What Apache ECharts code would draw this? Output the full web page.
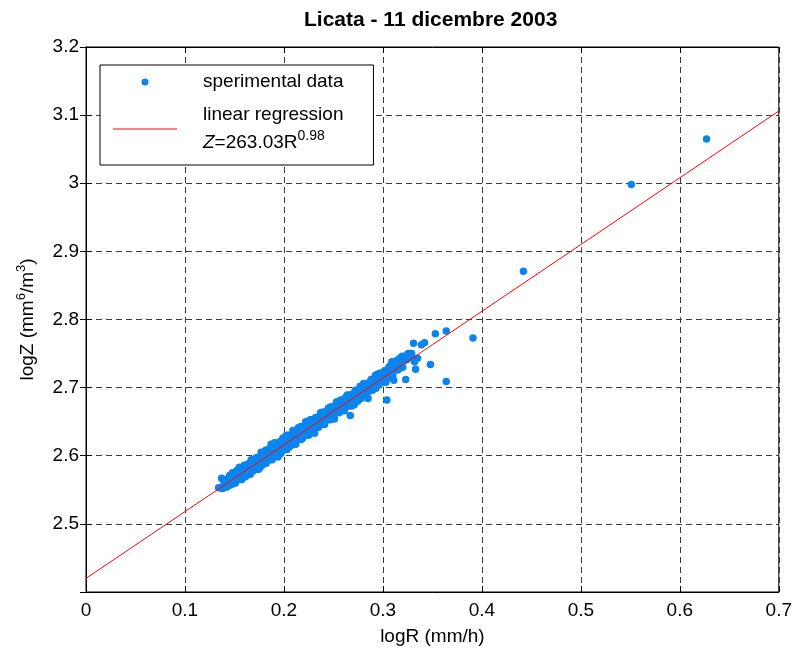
<!DOCTYPE html>
<html>
<head>
<meta charset="utf-8">
<script src="https://cdn.jsdelivr.net/npm/echarts@6/dist/echarts.min.js"></script>
<style>
  html, body { margin: 0; padding: 0; background: #fff; }
  #chart { width: 795px; height: 651px; }
</style>
</head>
<body>
<div id="chart"></div>
<script>
// Rain-rate / reflectivity pairs (log10 R in mm/h, log10 Z in mm^6/m^3)
const logR = [
  0.134, 0.137, 0.138, 0.140, 0.141, 0.143, 0.144, 0.145, 0.146, 0.147,
  0.148, 0.149, 0.150, 0.151, 0.152, 0.153, 0.154, 0.155, 0.156, 0.157,
  0.158, 0.159, 0.160, 0.161, 0.162, 0.163, 0.164, 0.165, 0.166, 0.167,
  0.168, 0.169, 0.170, 0.171, 0.172, 0.173, 0.174, 0.175, 0.176, 0.177,
  0.178, 0.179, 0.180, 0.181, 0.182, 0.183, 0.184, 0.185, 0.186, 0.187,
  0.188, 0.189, 0.190, 0.191, 0.192, 0.193, 0.194, 0.195, 0.196, 0.197,
  0.198, 0.199, 0.200, 0.201, 0.202, 0.203, 0.204, 0.205, 0.206, 0.207,
  0.208, 0.209, 0.210, 0.211, 0.212, 0.213, 0.214, 0.215, 0.216, 0.217,
  0.218, 0.219, 0.220, 0.221, 0.222, 0.223, 0.224, 0.225, 0.226, 0.227,
  0.228, 0.229, 0.230, 0.231, 0.232, 0.233, 0.234, 0.235, 0.236, 0.237,
  0.238, 0.239, 0.240, 0.241, 0.242, 0.243, 0.244, 0.245, 0.246, 0.247,
  0.248, 0.249, 0.250, 0.251, 0.252, 0.253, 0.254, 0.255, 0.256, 0.257,
  0.258, 0.259, 0.260, 0.261, 0.262, 0.263, 0.264, 0.265, 0.266, 0.267,
  0.268, 0.269, 0.270, 0.271, 0.272, 0.273, 0.274, 0.275, 0.276, 0.277,
  0.278, 0.279, 0.280, 0.281, 0.282, 0.283, 0.284, 0.285, 0.286, 0.287,
  0.288, 0.289, 0.290, 0.291, 0.292, 0.293, 0.294, 0.295, 0.296, 0.297,
  0.298, 0.299, 0.300, 0.301, 0.302, 0.303, 0.304, 0.305, 0.306, 0.307,
  0.308, 0.309, 0.310, 0.311, 0.312, 0.313, 0.314, 0.315, 0.316, 0.317,
  0.318, 0.319, 0.320, 0.321, 0.322, 0.323, 0.324, 0.325, 0.327, 0.329,
  0.331, 0.332, 0.333, 0.335, 0.339, 0.342, 0.348, 0.353, 0.364, 0.364,
  0.391, 0.442, 0.551, 0.627,
  0.139, 0.142, 0.146, 0.150, 0.153, 0.157, 0.160, 0.163, 0.166, 0.169,
  0.172, 0.175, 0.178, 0.181, 0.184, 0.187, 0.190, 0.193, 0.196, 0.199,
  0.202, 0.205, 0.208, 0.211, 0.214, 0.217, 0.220, 0.223, 0.226, 0.229,
  0.232, 0.235, 0.238, 0.241, 0.244, 0.247, 0.250, 0.253, 0.256, 0.259,
  0.262, 0.265, 0.268, 0.271, 0.274, 0.277, 0.280, 0.283, 0.286, 0.289,
  0.292, 0.295, 0.298, 0.301, 0.304, 0.307, 0.310, 0.313, 0.316, 0.320,
  0.1365, 0.1395, 0.1425, 0.1455, 0.1485, 0.1515, 0.1545, 0.1575, 0.1605, 0.1635,
  0.1665, 0.1695, 0.1725, 0.1755, 0.1785, 0.1815, 0.1845, 0.1875, 0.1905, 0.1935,
  0.1965, 0.1995, 0.2025, 0.2055, 0.2085, 0.2115, 0.2145, 0.2175, 0.2205, 0.2235,
  0.2265, 0.2295, 0.2325, 0.2355, 0.2385, 0.2415, 0.2445, 0.2475, 0.2505, 0.2535,
  0.2565, 0.2595, 0.2625, 0.2655, 0.2685, 0.2715, 0.2745, 0.2775, 0.2805, 0.2835,
  0.2865, 0.2895, 0.2925, 0.2955, 0.2985, 0.3015, 0.3045, 0.3075, 0.3105, 0.3135,
  0.3165, 0.3195, 0.3225, 0.3255, 0.3285
];
const logZ = [
  2.553, 2.567, 2.552, 2.561, 2.554, 2.566, 2.559, 2.571, 2.557, 2.567,
  2.575, 2.562, 2.572, 2.560, 2.577, 2.570, 2.565, 2.583, 2.576, 2.567,
  2.581, 2.573, 2.586, 2.569, 2.581, 2.587, 2.576, 2.586, 2.573, 2.594,
  2.583, 2.591, 2.580, 2.590, 2.597, 2.586, 2.580, 2.598, 2.592, 2.605,
  2.586, 2.598, 2.592, 2.604, 2.589, 2.600, 2.609, 2.596, 2.606, 2.617,
  2.594, 2.611, 2.604, 2.600, 2.618, 2.611, 2.598, 2.618, 2.608, 2.617,
  2.606, 2.626, 2.617, 2.611, 2.624, 2.609, 2.623, 2.630, 2.619, 2.615,
  2.629, 2.637, 2.621, 2.629, 2.617, 2.637, 2.628, 2.635, 2.625, 2.643,
  2.634, 2.626, 2.642, 2.634, 2.650, 2.633, 2.643, 2.630, 2.649, 2.642,
  2.653, 2.639, 2.649, 2.633, 2.656, 2.645, 2.654, 2.642, 2.652, 2.663,
  2.647, 2.660, 2.653, 2.646, 2.665, 2.658, 2.653, 2.670, 2.664, 2.653,
  2.668, 2.661, 2.672, 2.654, 2.669, 2.679, 2.664, 2.675, 2.663, 2.673,
  2.682, 2.670, 2.681, 2.666, 2.680, 2.676, 2.689, 2.673, 2.685, 2.659,
  2.690, 2.680, 2.687, 2.675, 2.696, 2.689, 2.683, 2.696, 2.688, 2.702,
  2.684, 2.697, 2.693, 2.703, 2.691, 2.699, 2.688, 2.684, 2.707, 2.701,
  2.712, 2.697, 2.708, 2.702, 2.714, 2.699, 2.710, 2.720, 2.706, 2.721,
  2.715, 2.707, 2.720, 2.713, 2.725, 2.708, 2.682, 2.723, 2.730, 2.718,
  2.728, 2.738, 2.718, 2.711, 2.734, 2.729, 2.740, 2.726, 2.737, 2.743,
  2.733, 2.742, 2.730, 2.740, 2.746, 2.712, 2.741, 2.747, 2.750, 2.750,
  2.765, 2.738, 2.727, 2.743, 2.763, 2.766, 2.734, 2.779, 2.783, 2.709,
  2.773, 2.871, 2.998, 3.065,
  2.564, 2.560, 2.569, 2.563, 2.579, 2.578, 2.572, 2.572, 2.590, 2.578,
  2.586, 2.585, 2.601, 2.594, 2.593, 2.606, 2.614, 2.603, 2.621, 2.613,
  2.611, 2.622, 2.618, 2.636, 2.636, 2.629, 2.629, 2.647, 2.638, 2.650,
  2.641, 2.657, 2.657, 2.659, 2.666, 2.664, 2.659, 2.664, 2.677, 2.682,
  2.670, 2.685, 2.678, 2.691, 2.695, 2.688, 2.701, 2.706, 2.696, 2.709,
  2.704, 2.711, 2.708, 2.723, 2.722, 2.729, 2.729, 2.737, 2.731, 2.741,
  2.553, 2.562, 2.554, 2.565, 2.559, 2.572, 2.579, 2.565, 2.580, 2.578,
  2.577, 2.595, 2.593, 2.582, 2.597, 2.608, 2.603, 2.595, 2.619, 2.616,
  2.603, 2.622, 2.630, 2.613, 2.626, 2.623, 2.641, 2.624, 2.639, 2.637,
  2.653, 2.636, 2.650, 2.647, 2.664, 2.650, 2.662, 2.672, 2.656, 2.672,
  2.681, 2.668, 2.686, 2.678, 2.673, 2.689, 2.680, 2.698, 2.706, 2.692,
  2.704, 2.696, 2.718, 2.704, 2.721, 2.717, 2.714, 2.732, 2.726, 2.733,
  2.728, 2.746, 2.741, 2.750, 2.744
];

// Fitted line log Z = log 263.03 + 0.98 log R, drawn across the axis range
const regR = [0, 0.7];
const regZ = [2.420, 3.106];

// Axis tick values
const xTicks = [0, 0.1, 0.2, 0.3, 0.4, 0.5, 0.6, 0.7];
const yTicks = [2.4, 2.5, 2.6, 2.7, 2.8, 2.9, 3.0, 3.1, 3.2];

const FONT = 'Liberation Sans, Arial, Helvetica, sans-serif';
const points = logR.map((r, i) => [r, logZ[i]]);
const regLine = regR.map((r, i) => [r, regZ[i]]);

const chart = echarts.init(document.getElementById('chart'), null, { renderer: 'canvas' });

const gridLine = { show: true, lineStyle: { color: '#3c3c3c', type: [6, 4], width: 1 } };

chart.setOption({
  animation: false,
  backgroundColor: '#fff',
  textStyle: { fontFamily: FONT },
  title: {
    text: 'Licata - 11 dicembre 2003',
    left: 304, top: 10, padding: 0,
    textStyle: { fontFamily: FONT, fontSize: 21, fontWeight: 'bold', color: '#000' }
  },
  grid: {
    left: 86, right: 16, top: 47, bottom: 56,
    show: true, borderColor: '#000', borderWidth: 1, backgroundColor: '#fff'
  },
  legend: {
    orient: 'vertical',
    left: 100, top: 65,
    padding: [3, 30, 8, 13],
    itemGap: 5,
    itemWidth: 64, itemHeight: 7,
    backgroundColor: '#fff',
    borderColor: '#000', borderWidth: 1,
    selectedMode: false,
    data: [
      { name: 'sperimental data', icon: 'circle' },
      { name: 'linear regression', icon: 'path://M0,0H64V1H0Z' }
    ],
    formatter: function (name) {
      if (name === 'linear regression') {
        return 'linear regression\n{z|Z}=263.03R{sup|0.98}';
      }
      return name;
    },
    textStyle: {
      fontFamily: FONT, fontSize: 19, color: '#000', lineHeight: 28,
      padding: [0, 0, 0, 21],
      rich: {
        z: { fontFamily: FONT, fontSize: 19, fontStyle: 'italic', color: '#000', lineHeight: 28 },
        sup: { fontFamily: FONT, fontSize: 14, color: '#000', verticalAlign: 'top', lineHeight: 16 }
      }
    }
  },
  xAxis: [{
    type: 'value', min: xTicks[0], max: xTicks[xTicks.length - 1], interval: 0.1,
    position: 'bottom',
    name: 'logR (mm/h)', nameLocation: 'middle', nameGap: 35,
    nameTextStyle: { fontFamily: FONT, fontSize: 19, color: '#000' },
    axisLine: { show: true, lineStyle: { color: '#000', width: 1 } },
    axisTick: { show: true, inside: true, length: 6, lineStyle: { color: '#000' } },
    axisLabel: { fontFamily: FONT, fontSize: 19, color: '#000', margin: 9 },
    splitLine: gridLine
  }, {
    type: 'value', min: xTicks[0], max: xTicks[xTicks.length - 1], interval: 0.1,
    position: 'top',
    axisLine: { show: true, lineStyle: { color: '#000', width: 1 } },
    axisTick: { show: true, inside: true, length: 6, lineStyle: { color: '#000' } },
    axisLabel: { show: false },
    splitLine: { show: false }
  }],
  yAxis: [{
    type: 'value', min: yTicks[0], max: yTicks[yTicks.length - 1], interval: 0.1,
    position: 'left',
    name: 'logZ (mm{sup|6}/m{sup|3})', nameLocation: 'middle', nameGap: 45,
    nameTextStyle: {
      fontFamily: FONT, fontSize: 19, color: '#000', lineHeight: 26,
      rich: {
        sup: { fontFamily: FONT, fontSize: 13, color: '#000', verticalAlign: 'top', lineHeight: 15 }
      }
    },
    axisLine: { show: true, lineStyle: { color: '#000', width: 1 } },
    axisTick: { show: true, inside: true, length: 6, lineStyle: { color: '#000' } },
    axisLabel: { fontFamily: FONT, fontSize: 19, color: '#000', margin: 7, showMinLabel: false },
    splitLine: gridLine
  }, {
    type: 'value', min: yTicks[0], max: yTicks[yTicks.length - 1], interval: 0.1,
    position: 'right',
    axisLine: { show: true, lineStyle: { color: '#000', width: 1 } },
    axisTick: { show: true, inside: true, length: 6, lineStyle: { color: '#000' } },
    axisLabel: { show: false },
    splitLine: { show: false }
  }],
  series: [{
    name: 'sperimental data',
    type: 'scatter',
    xAxisIndex: 0, yAxisIndex: 0,
    data: points,
    symbol: 'circle',
    symbolSize: 7.5,
    itemStyle: { color: '#0b84ee', opacity: 1 },
    emphasis: { disabled: true },
    z: 2
  }, {
    name: 'linear regression',
    type: 'line',
    xAxisIndex: 0, yAxisIndex: 0,
    data: regLine,
    symbol: 'none',
    showSymbol: false,
    lineStyle: { color: '#ff0000', width: 1 },
    itemStyle: { color: '#ff0000' },
    emphasis: { disabled: true },
    z: 3
  }]
});
</script>
</body>
</html>
